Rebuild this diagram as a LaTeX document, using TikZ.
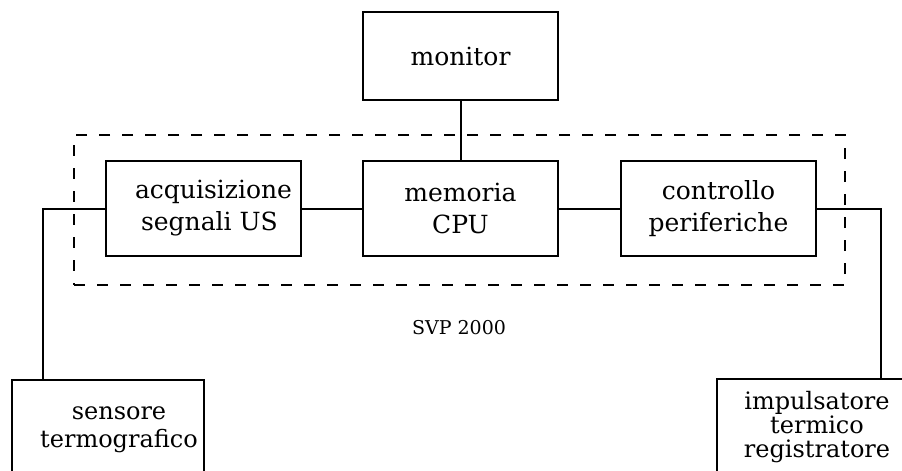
\documentclass[tikz,border=0pt]{standalone}
\usepackage{fontspec}
\setmainfont{DejaVu Serif}
\begin{document}
\begin{tikzpicture}[x=1pt,y=-1pt,
  box/.style={draw,line width=2.2pt,inner sep=0pt,outer sep=0pt,align=center,
    font=\fontsize{25}{32}\selectfont},
  txt/.style={inner sep=0pt,align=center,font=\fontsize{24}{28}\selectfont},
  wire/.style={line width=2pt},
  frame/.style={draw,line width=2.4pt,dash pattern=on 11pt off 12pt,inner sep=0pt,outer sep=0pt}]
\useasboundingbox (0,0) rectangle (902,471);
\node[frame,minimum width=771pt,minimum height=150pt] (sys) at (459.5,210) {};
\node[box,minimum width=195pt,minimum height=88pt] (mon) at (460.5,56) {monitor};
\node[box,minimum width=195pt,minimum height=95pt] (acq) at (203.5,208.5) {\hspace*{20pt}acquisizione\\\hspace*{12pt}segnali US};
\node[box,minimum width=195pt,minimum height=95pt] (mem) at (460.5,208.5) {memoria\\CPU};
\node[box,minimum width=195pt,minimum height=95pt] (ctl) at (718.5,208.5) {controllo\\periferiche};
\node[draw,line width=2.2pt,inner sep=0pt,outer sep=0pt,minimum width=192pt,minimum height=120pt] (sen) at (108,440) {};
\node[draw,line width=2.2pt,inner sep=0pt,outer sep=0pt,minimum width=203pt,minimum height=120pt] (imp) at (818.5,439) {};
\node[txt] (sent) at (119,430) {sensore\\termografico};
\node[txt,font=\fontsize{24}{24}\selectfont] (impt) at (817,427) {impulsatore\\termico\\registratore};
\node[inner sep=0pt,font=\fontsize{19}{20}\selectfont] (lab) at (459,328) {SVP 2000};
\coordinate (sl) at (43,300);
\coordinate (sr) at (881,300);
\draw[wire] (mon.south) -- (mem.north);
\draw[wire] (acq.east) -- (mem.west);
\draw[wire] (mem.east) -- (ctl.west);
\draw[wire] (acq.west) -| (sl |- sen.north);
\draw[wire] (ctl.east) -| (sr |- imp.north);
\end{tikzpicture}
\end{document}
